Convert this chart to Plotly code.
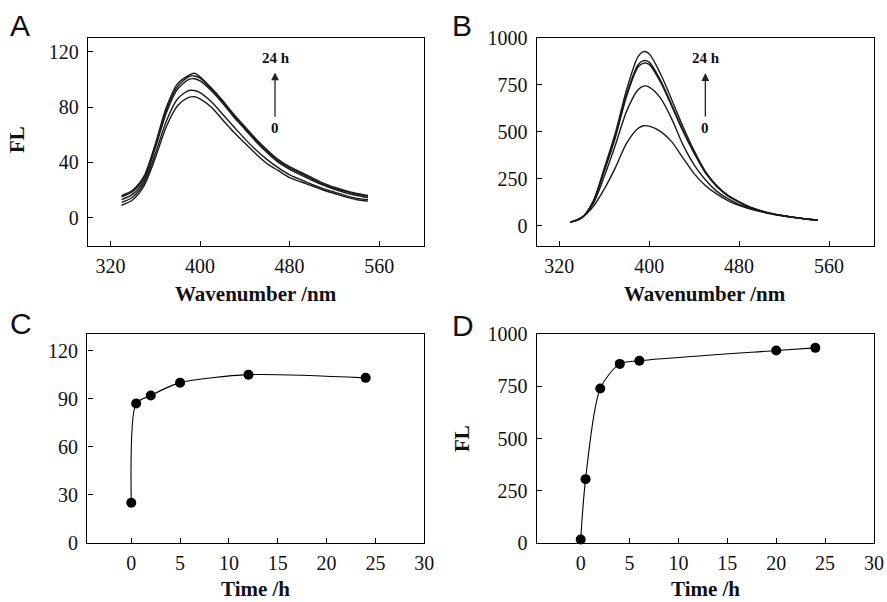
import plotly.graph_objects as go

# ---------------- Data ----------------
wl = [330, 340, 350, 360, 370, 380, 390, 395, 400, 410, 420, 430, 440, 450,
      460, 470, 480, 490, 500, 510, 520, 530, 540, 550]

# Panel A spectra (FL) at 0 ... 24 h
specA_1 = [9, 13, 23, 43, 66, 81, 87, 87.5, 86, 80, 71, 62, 54, 46, 39, 34, 29, 26, 23, 20, 17.5, 15, 13, 12]
specA_2 = [11, 15, 25, 46, 70, 86, 92, 92, 90.5, 84, 75, 66, 57, 49, 42, 36, 31, 27.5, 24, 21, 18.5, 16, 14, 13]
specA_3 = [13, 17, 27, 50, 76, 93, 100, 100.5, 99, 92, 83, 73, 64, 55, 47, 40, 35, 31, 27, 23.5, 20.5, 18, 16, 14.5]
specA_4 = [15, 19, 29, 52, 78, 95, 102, 102.5, 101, 93, 84, 74, 65, 56, 48, 41, 36, 32, 28, 24, 21, 19, 17, 15.5]
specA_5 = [16, 20, 30, 53, 80, 97, 103, 104.5, 102, 94, 85, 75, 66, 57, 49, 42, 37, 33, 29, 25, 22, 19.5, 17.5, 16]

# Panel B spectra (FL) at 0 ... 24 h
specB_1 = [20, 45, 100, 195, 310, 440, 518, 532, 530, 502, 448, 362, 278, 215, 170, 135, 110, 90, 75, 62, 52, 44, 37, 31]
specB_2 = [20, 45, 115, 262, 430, 610, 722, 743, 738, 680, 570, 432, 325, 245, 185, 145, 115, 95, 77, 63, 53, 44, 37, 31]
specB_3 = [20, 42, 125, 290, 470, 690, 843, 865, 858, 765, 638, 505, 387, 283, 210, 160, 126, 98, 78, 64, 53, 44, 37, 32]
specB_4 = [20, 42, 125, 295, 480, 700, 855, 878, 870, 775, 645, 510, 390, 285, 212, 162, 128, 99, 79, 64, 54, 45, 37, 32]
specB_5 = [20, 42, 128, 305, 495, 725, 898, 926, 915, 810, 672, 530, 400, 290, 215, 163, 128, 100, 80, 65, 54, 45, 37, 32]

# Panel C / D time courses
timeC = [0, 0.5, 2, 5, 12, 24]
flC = [25, 87, 92, 100, 105, 103]
timeD = [0, 0.5, 2, 4, 6, 20, 24]
flD = [15, 305, 740, 858, 873, 922, 935]

xticksAB = [320, 400, 480, 560]
yticksA = [0, 40, 80, 120]
yticksB = [0, 250, 500, 750, 1000]
xticksCD = [0, 5, 10, 15, 20, 25, 30]
yticksC = [0, 30, 60, 90, 120]
yticksD = [0, 250, 500, 750, 1000]

# ---------------- Figure ----------------
W, H = 887, 602
SERIF = "Liberation Serif"
SANS = "Liberation Sans"

fig = go.Figure()

for s in [specA_1, specA_2, specA_3, specA_4, specA_5]:
    fig.add_trace(go.Scatter(x=wl, y=s, mode="lines", xaxis="x", yaxis="y",
                             line=dict(color="#1a1a1a", width=1.4, shape="spline", smoothing=0.8),
                             showlegend=False, hoverinfo="skip"))
for s in [specB_1, specB_2, specB_3, specB_4, specB_5]:
    fig.add_trace(go.Scatter(x=wl, y=s, mode="lines", xaxis="x2", yaxis="y2",
                             line=dict(color="#1a1a1a", width=1.4, shape="spline", smoothing=0.8),
                             showlegend=False, hoverinfo="skip"))

fig.add_trace(go.Scatter(x=timeC, y=flC, mode="lines+markers", xaxis="x3", yaxis="y3",
                         line=dict(color="black", width=1.1, shape="spline", smoothing=0.7),
                         marker=dict(color="black", size=10),
                         showlegend=False, cliponaxis=False))
fig.add_trace(go.Scatter(x=timeD, y=flD, mode="lines+markers", xaxis="x4", yaxis="y4",
                         line=dict(color="black", width=1.1, shape="spline", smoothing=0.8),
                         marker=dict(color="black", size=10),
                         showlegend=False, cliponaxis=False))


def dom_x(l, r):
    return [l / W, r / W]


def dom_y(top, bottom):
    return [1 - bottom / H, 1 - top / H]


axis_common = dict(showline=True, mirror=True, linecolor="black", linewidth=1.4,
                   ticks="inside", ticklen=5, tickwidth=1.2, tickcolor="black",
                   showgrid=False, zeroline=False, automargin=False,
                   tickfont=dict(family=SERIF, size=20, color="#111"))

fig.update_layout(
    template="none",
    width=W, height=H,
    font=dict(family=SERIF, size=20, color="#111"),
    margin=dict(l=0, r=0, t=0, b=0, pad=0),
    paper_bgcolor="white", plot_bgcolor="white",
    xaxis=dict(domain=dom_x(88, 424), range=[300, 600], tickvals=xticksAB,
               anchor="y", ticklabelstandoff=2, **axis_common),
    yaxis=dict(domain=dom_y(38, 246), range=[-20.5, 130], tickvals=yticksA,
               anchor="x", ticklabelstandoff=4, **axis_common),
    xaxis2=dict(domain=dom_x(536.7, 874), range=[300, 600], tickvals=xticksAB,
                anchor="y2", ticklabelstandoff=2, **axis_common),
    yaxis2=dict(domain=dom_y(37.7, 245.7), range=[-105, 1000], tickvals=yticksB,
                anchor="x2", ticklabelstandoff=4, **axis_common),
    xaxis3=dict(domain=dom_x(87.3, 424.3), range=[-4.5, 30], tickvals=xticksCD,
                anchor="y3", ticklabelstandoff=2, **axis_common),
    yaxis3=dict(domain=dom_y(334, 542.7), range=[0, 130.4], tickvals=yticksC,
                anchor="x3", ticklabelstandoff=4, **axis_common),
    xaxis4=dict(domain=dom_x(536.7, 874), range=[-4.5, 30], tickvals=xticksCD,
                anchor="y4", ticklabelstandoff=2, **axis_common),
    yaxis4=dict(domain=dom_y(334.3, 542.7), range=[0, 1000], tickvals=yticksD,
                anchor="x4", ticklabelstandoff=4, **axis_common),
)

annotations = []


def paper_text(text, px, py, size, family, bold=False, angle=0, color="#111"):
    t = f"<b>{text}</b>" if bold else text
    annotations.append(dict(text=t, x=px / W, y=1 - py / H, xref="paper", yref="paper",
                            xanchor="center", yanchor="middle", showarrow=False,
                            textangle=angle,
                            font=dict(family=family, size=size, color=color)))


# panel letters
paper_text("A", 20, 26, 30, SANS)
paper_text("B", 462, 26, 30, SANS)
paper_text("C", 21, 323, 30, SANS)
paper_text("D", 463, 325, 30, SANS)

# axis titles
paper_text("Wavenumber /nm", 256, 294, 21, SERIF, bold=True)
paper_text("Wavenumber /nm", 705, 294, 21, SERIF, bold=True)
paper_text("Time /h", 255, 589, 21, SERIF, bold=True)
paper_text("Time /h", 705, 589, 21, SERIF, bold=True)
paper_text("FL", 17, 140, 21, SERIF, bold=True, angle=-90)
paper_text("FL", 462, 438, 21, SERIF, bold=True, angle=-90)

# arrows and time labels in panels A and B
for xr, yr, xpos, y24, y0, ytail, yhead in [("x", "y", 467, 115.5, 65, 72, 105),
                                             ("x2", "y2", 450, 892, 520, 573, 812)]:
    annotations.append(dict(text="<b>24 h</b>", x=xpos + 1, y=y24, xref=xr, yref=yr,
                            showarrow=False, xanchor="center", yanchor="middle",
                            font=dict(family=SERIF, size=15, color="#111")))
    annotations.append(dict(text="<b>0</b>", x=xpos, y=y0, xref=xr, yref=yr,
                            showarrow=False, xanchor="center", yanchor="middle",
                            font=dict(family=SERIF, size=15, color="#111")))
    annotations.append(dict(text="", x=xpos, y=yhead, ax=xpos, ay=ytail,
                            xref=xr, yref=yr, axref=xr, ayref=yr,
                            showarrow=True, arrowhead=2, arrowsize=1.2, arrowwidth=1.3,
                            arrowcolor="#222"))

fig.update_layout(annotations=annotations)

fig.write_html("out.html")
